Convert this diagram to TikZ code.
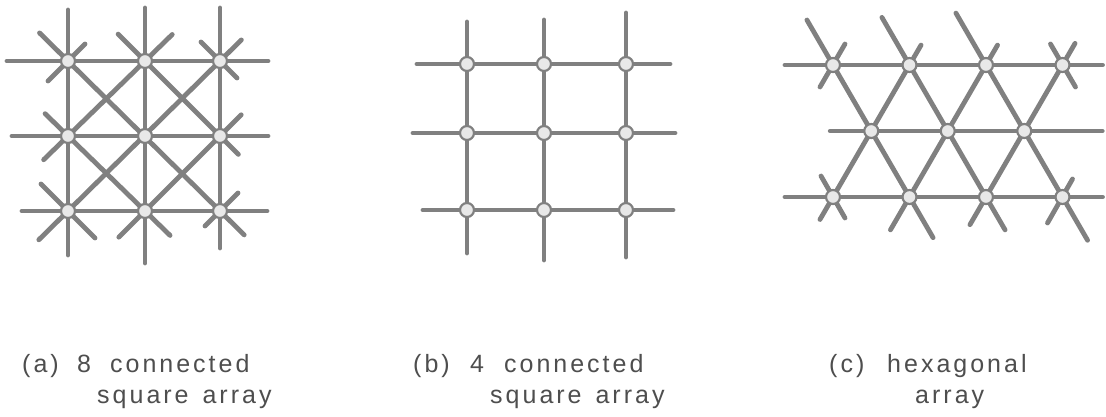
\documentclass[tikz,border=0pt]{standalone}
\usepackage{fontspec}
\newfontfamily\capfont[LetterSpace=12]{Liberation Sans}
\usetikzlibrary{backgrounds,calc}

\definecolor{wiregray}{RGB}{128,128,128}
\definecolor{sitefill}{RGB}{232,232,232}
\definecolor{capgray}{RGB}{78,78,78}

\tikzset{
	wire/.style={draw=wiregray, line width=4.8pt, line cap=round},
	reach/.style 2 args={shorten <=-#1pt, shorten >=-#2pt},
	site/.style={circle, draw=wiregray, fill=sitefill, line width=2.2pt, minimum size=14pt, inner sep=0pt},
	caption/.style={text=capgray, font=\capfont\fontsize{25}{30}\selectfont, anchor=base west, inner sep=0pt}
}

\begin{document}
\begin{tikzpicture}[x=1pt, y=-1pt]
			\useasboundingbox (0,0) rectangle (1106,417);
			
			% (a) 8 connected
			\node[site] (a11) at (68,61) {};
			\node[site] (a12) at (145,61) {};
			\node[site] (a13) at (220,61) {};
			\node[site] (a21) at (68,136) {};
			\node[site] (a22) at (145,136) {};
			\node[site] (a23) at (220,136) {};
			\node[site] (a31) at (68,211) {};
			\node[site] (a32) at (145,211) {};
			\node[site] (a33) at (220,211) {};
			
			% (b) 4 connected
			\node[site] (b11) at (467,64) {};
			\node[site] (b12) at (544,64) {};
			\node[site] (b13) at (626,64) {};
			\node[site] (b21) at (467,133) {};
			\node[site] (b22) at (544,133) {};
			\node[site] (b23) at (626,133) {};
			\node[site] (b31) at (467,210) {};
			\node[site] (b32) at (544,210) {};
			\node[site] (b33) at (626,210) {};
			
			% (c) hexagonal
			\node[site] (c11) at (833,65) {};
			\node[site] (c12) at (909.5,65) {};
			\node[site] (c13) at (986,65) {};
			\node[site] (c14) at (1062.5,65) {};
			\node[site] (c21) at (871.25,131) {};
			\node[site] (c22) at (947.75,131) {};
			\node[site] (c23) at (1024.25,131) {};
			\node[site] (c31) at (833,197) {};
			\node[site] (c32) at (909.5,197) {};
			\node[site] (c33) at (986,197) {};
			\node[site] (c34) at (1062.5,197) {};
			
			\begin{scope}[on background layer]
				\fill[white] (0,0) rectangle (1106,417);
				
				% rows and columns of (a)
				\draw[wire, reach={61}{48}] (a11.center) -- (a13.center);
				\draw[wire, reach={56}{48}] (a21.center) -- (a23.center);
				\draw[wire, reach={46}{47}] (a31.center) -- (a33.center);
				\draw[wire, reach={51}{44}] (a11.center) -- (a31.center);
				\draw[wire, reach={53}{52}] (a12.center) -- (a32.center);
				\draw[wire, reach={53}{37}] (a13.center) -- (a33.center);
				% diagonals of (a)
				\draw[wire, reach={40}{34}] (a11.center) -- (a33.center);
				\draw[wire, reach={38}{26}] (a12.center) -- (a23.center);
				\draw[wire, reach={32}{35}] (a21.center) -- (a32.center);
				\draw[wire, reach={41}{30}] (a31.center) -- (a13.center);
				\draw[wire, reach={34}{38}] (a21.center) -- (a12.center);
				\draw[wire, reach={37}{30}] (a32.center) -- (a23.center);
				\draw[wire] (a11.center) +(-20,20) -- +(17,-17);
				\draw[wire] (a13.center) +(-19,-19) -- +(17,17);
				\draw[wire] (a31.center) +(-27,-27) -- +(27,27);
				\draw[wire] (a33.center) +(-15,15) -- +(18,-18);
				
				% rows and columns of (b)
				\draw[wire, reach={50}{44}] (b11.center) -- (b13.center);
				\draw[wire, reach={54}{49}] (b21.center) -- (b23.center);
				\draw[wire, reach={44}{47}] (b31.center) -- (b33.center);
				\draw[wire, reach={42}{43}] (b11.center) -- (b31.center);
				\draw[wire, reach={44}{50}] (b12.center) -- (b32.center);
				\draw[wire, reach={51}{47}] (b13.center) -- (b33.center);
				
				% rows of (c)
				\draw[wire, reach={48}{40}] (c11.center) -- (c14.center);
				\draw[wire, reach={41}{78}] (c21.center) -- (c23.center);
				\draw[wire, reach={48}{40}] (c31.center) -- (c34.center);
				% slanted lines of (c)
				\draw[wire, reach={52}{47}] (c11.center) -- (c32.center);
				\draw[wire, reach={55}{38}] (c12.center) -- (c33.center);
				\draw[wire, reach={60}{50}] (c13.center) -- (c34.center);
				\draw[wire, reach={26}{23}] (c31.center) -- (c12.center);
				\draw[wire, reach={38}{23}] (c32.center) -- (c13.center);
				\draw[wire, reach={32}{25}] (c33.center) -- (c14.center);
				\draw[wire] (c14.center) +(-12,-21) -- +(13,22);
				\draw[wire] (c31.center) +(-12,-21) -- +(12,21);
				\draw[wire] (c11.center) +(-13,22) -- +(12,-21);
				\draw[wire] (c34.center) +(-15,26) -- +(10,-18);
			\end{scope}
			
			% captions
			\node[caption] (taga) at (22,372) {(a)};
			\node[caption] (capa) at (77,372) {8\hspace{19pt}connected};
			\node[caption] (capa2) at (97,403) {square\hspace{4pt} array};
			\node[caption] (tagb) at (413,372) {(b)};
			\node[caption] (capb) at (470,372) {4\hspace{20pt}connected};
			\node[caption] (capb2) at (490,403) {square\hspace{4pt} array};
			\node[caption] (tagc) at (829,372) {(c)};
			\node[caption] (capc) at (887,372) {hexagonal};
			\node[caption] (capc2) at (915,403) {array};
		\end{tikzpicture}
\end{document}
